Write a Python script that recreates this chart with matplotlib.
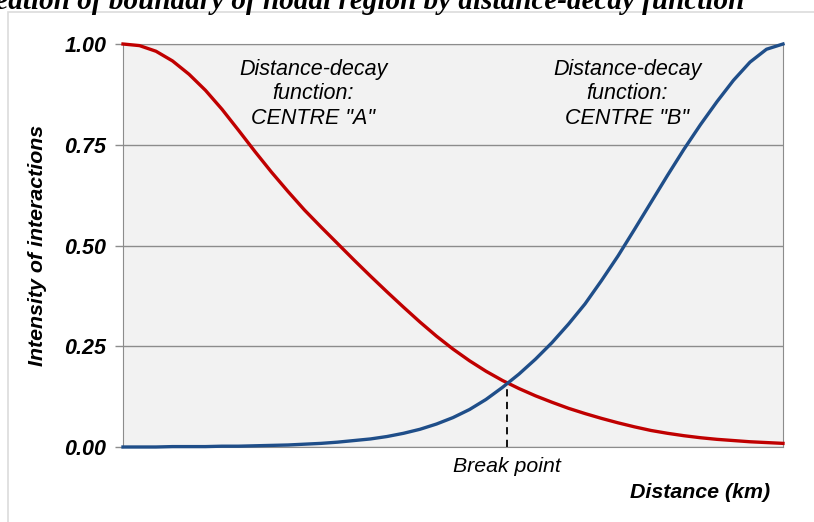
import matplotlib.pyplot as plt
from matplotlib.patches import Rectangle

# distance in arbitrary units along the x axis
distance = [0, 0.25, 0.5, 0.75, 1, 1.25, 1.5, 1.75, 2, 2.25, 2.5, 2.75, 3,
            3.25, 3.5, 3.75, 4, 4.25, 4.5, 4.75, 5, 5.25, 5.5, 5.75, 6, 6.25,
            6.5, 6.75, 7, 7.25, 7.5, 7.75, 8, 8.25, 8.5, 8.75, 9, 9.25, 9.5,
            9.75, 10]
centre_a = [1.000, 0.996, 0.982, 0.958, 0.925, 0.885, 0.838, 0.786, 0.733,
            0.682, 0.634, 0.588, 0.546, 0.505, 0.464, 0.424, 0.385, 0.347,
            0.310, 0.275, 0.243, 0.214, 0.188, 0.165, 0.145, 0.127, 0.111,
            0.096, 0.083, 0.071, 0.060, 0.050, 0.041, 0.034, 0.028, 0.023,
            0.019, 0.016, 0.013, 0.011, 0.009]
centre_b = [0.000, 0.000, 0.000, 0.001, 0.001, 0.001, 0.002, 0.002, 0.003,
            0.004, 0.005, 0.007, 0.009, 0.012, 0.016, 0.020, 0.026, 0.034,
            0.044, 0.057, 0.073, 0.093, 0.118, 0.148, 0.181, 0.218, 0.259,
            0.305, 0.355, 0.413, 0.474, 0.540, 0.607, 0.674, 0.739, 0.800,
            0.857, 0.910, 0.955, 0.987, 1.000]
break_x, break_y = 5.82, 0.159
yticks = [0.0, 0.25, 0.5, 0.75, 1.0]
ytick_labels = ["0.00", "0.25", "0.50", "0.75", "1.00"]

RED, BLUE, GRID = "#c00000", "#1f4e89", "#8c8c8c"
SANS = "Liberation Sans"

fig = plt.figure(figsize=(8.14, 5.22), dpi=100)
# light frame of the surrounding page
fig.patches.append(Rectangle((8 / 814, -0.1), 1.2, 1 - 12 / 522 + 0.1,
                             transform=fig.transFigure, fill=False,
                             edgecolor="#dcdcdc", lw=1.2))
fig.text(745 / 814, 1 - 9 / 522,
         "Delineation of boundary of nodal region by distance-decay function",
         ha="right", va="baseline", fontsize=21, family="Liberation Serif",
         weight="bold", style="italic")

ax = fig.add_axes([123 / 814, 1 - 447 / 522, 660 / 814, 403 / 522])
ax.set_facecolor("#f2f2f2")
ax.set_xlim(0, 10), ax.set_ylim(0, 1)
ax.set_yticks(yticks, ytick_labels)
ax.set_xticks([])
ax.grid(axis="y", color=GRID, lw=1)
ax.set_axisbelow(True)
for s in ax.spines.values():
    s.set_color(GRID)
ax.tick_params(axis="y", length=6, color=GRID, width=1, pad=6)
for lab in ax.get_yticklabels():
    lab.set(family=SANS, weight="bold", style="italic", fontsize=15.5)

ax.plot(distance, centre_a, color=RED, lw=2.4, clip_on=False, zorder=3)
ax.plot(distance, centre_b, color=BLUE, lw=2.4, clip_on=False, zorder=3)
ax.plot([break_x, break_x], [0, break_y], color="black", lw=1.3,
        ls=(0, (4, 3)), zorder=2)

txt = dict(ha="center", va="center", family=SANS, style="italic",
           fontsize=15.5, linespacing=1.2)
ax.text(2.88, 0.876, 'Distance-decay\nfunction:\nCENTRE "A"', **txt)
ax.text(7.64, 0.876, 'Distance-decay\nfunction:\nCENTRE "B"', **txt)

fig.text(507 / 814, 1 - 467 / 522, "Break point", ha="center", va="center",
         family=SANS, style="italic", fontsize=15.3)
fig.text(770 / 814, 1 - 493 / 522, "Distance (km)", ha="right", va="center",
         family=SANS, weight="bold", style="italic", fontsize=15.4)
fig.text(38 / 814, 1 - 245 / 522, "Intensity of interactions", rotation=90,
         ha="center", va="center", family=SANS, weight="bold",
         style="italic", fontsize=15.4)

fig.savefig("out.png", dpi=100)
